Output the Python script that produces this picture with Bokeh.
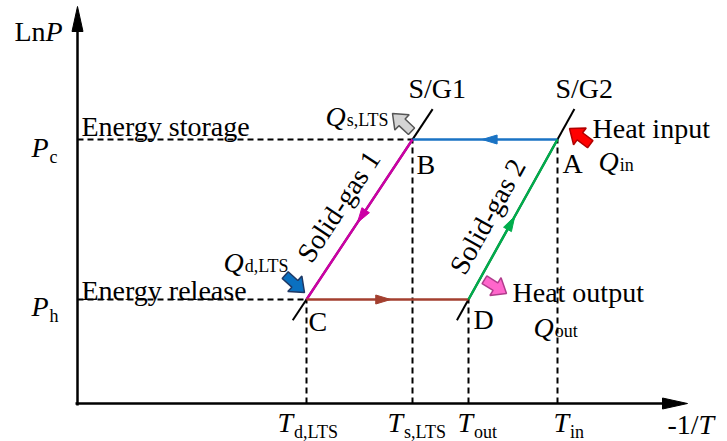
import numpy as np
from bokeh.plotting import figure
from bokeh.models import Range1d
from bokeh.core.properties import value
from bokeh.embed import file_html
from bokeh.resources import INLINE

# Cycle states on the ln P  vs  -1/T plane (diagram units, 1 unit = 100 px)
state_names = ["A", "B", "C", "D"]
state_x = [4.80, 3.35, 2.29, 3.91]   # -1/T
state_y = [2.64, 2.64, 1.04, 1.04]   # ln P

# Axis tick labels: (symbol, subscript)
pressure_ticks = [("P", "c"), ("P", "h")]
temp_ticks = [("T", "d,LTS"), ("T", "s,LTS"), ("T", "out"), ("T", "in")]

# Equilibrium lines (S/G1 through C-B, S/G2 through D-A)
sg_names = ["S/G1", "S/G2"]

# Process legs: start state, end state, colour
legs = [("A", "B", "#1a73c4"), ("B", "C", "#cc00a5"), ("C", "D", "#a33f2f"), ("D", "A", "#00ad4c")]

FONT = value("Liberation Serif")
W_REG = {"d": 500, ",": 250, "L": 611, "T": 611, "S": 556, "s": 389, "o": 500, "u": 500,
         "t": 278, "i": 278, "n": 500, "c": 444, "h": 500, "-": 333, "1": 500, "/": 278}
W_ITA = {"P": 611, "Q": 722, "T": 556}

p = figure(width=727, height=441, output_backend="svg", toolbar_location=None,
           x_range=Range1d(-0.77, 6.50), y_range=Range1d(-0.38, 4.03),
           x_axis_location=None, y_axis_location=None, min_border=0)
p.grid.visible = False
p.outline_line_color = None
p.background_fill_color = "white"
p.border_fill_color = "white"

pos = {n: (x, y) for n, x, y in zip(state_names, state_x, state_y)}


def X(px):
    return (px - 77) / 100.0


def Y(py):
    return (403 - py) / 100.0


def head(tx, ty, ux, uy, L, W, color):
    n = np.hypot(ux, uy)
    ux, uy = ux / n, uy / n
    bx, by = tx - L * ux, ty - L * uy
    px_, py_ = -uy, ux
    xs = [tx, bx + W / 2 * px_, bx - W / 2 * px_]
    ys = [ty, by + W / 2 * py_, by - W / 2 * py_]
    p.patch(xs, ys, fill_color=color, line_color=color, line_width=1)


def block_arrow(tx, ty, ang_deg, fill, edge, L=0.26, HL=0.13, HW=0.21, SW=0.09):
    a = np.radians(ang_deg)
    ux, uy = np.cos(a), np.sin(a)
    vx, vy = -uy, ux
    hb = (tx - HL * ux, ty - HL * uy)
    tb = (tx - L * ux, ty - L * uy)
    pts = [(tx, ty),
           (hb[0] + HW / 2 * vx, hb[1] + HW / 2 * vy),
           (hb[0] + SW / 2 * vx, hb[1] + SW / 2 * vy),
           (tb[0] + SW / 2 * vx, tb[1] + SW / 2 * vy),
           (tb[0] - SW / 2 * vx, tb[1] - SW / 2 * vy),
           (hb[0] - SW / 2 * vx, hb[1] - SW / 2 * vy),
           (hb[0] - HW / 2 * vx, hb[1] - HW / 2 * vy)]
    p.patch([q[0] for q in pts], [q[1] for q in pts], fill_color=fill,
            line_color=edge, line_width=1.5)


def txt(x, y, s, size=28, italic=False, align="left", baseline="alphabetic", angle=0.0):
    p.text(x=[x], y=[y], text=[s], text_font=FONT, text_font_size=f"{size}px",
           text_font_style="italic" if italic else "normal", text_align=align,
           text_baseline=baseline, angle=angle, text_color="black")


def width(s, size, italic=False):
    tbl = W_ITA if italic else W_REG
    return sum(tbl.get(ch, 500) for ch in s) * size / 1000.0


def sub_label(xl, yb, main, sub, drop=8):
    txt(xl, yb, main, italic=True)
    txt(xl + width(main, 28, True) / 100.0 + 0.01, yb - drop / 100.0, sub, size=18)


# --- axes with arrow heads ---
p.line([0, 0], [-0.02, 3.75], line_color="black", line_width=2.5)
head(0, 3.97, 0, 1, 0.25, 0.11, "black")
p.line([-0.02, 5.88], [0, 0], line_color="black", line_width=2.5)
head(6.10, 0, 1, 0, 0.25, 0.11, "black")

# --- dashed guide lines ---
dash = dict(line_color="black", line_width=2, line_dash="6 4")
p.line([0, pos["B"][0]], [pos["B"][1]] * 2, **dash)
p.line([0, pos["C"][0]], [pos["C"][1]] * 2, **dash)
for n in ["A", "B", "C", "D"]:
    p.line([pos[n][0]] * 2, [0, pos[n][1]], **dash)

# --- S/G equilibrium lines, extended beyond the states ---
for lo, hi in [("C", "B"), ("D", "A")]:
    (x0, y0), (x1, y1) = pos[lo], pos[hi]
    dx, dy = x1 - x0, y1 - y0
    p.line([x0 - 0.13 * dx, x1 + 0.19 * dx], [y0 - 0.13 * dy, y1 + 0.19 * dy],
           line_color="black", line_width=2)

# --- process legs with mid arrows ---
for s, e, c in legs:
    (x0, y0), (x1, y1) = pos[s], pos[e]
    p.line([x0, x1], [y0, y1], line_color=c, line_width=2.5)
    tx, ty = x0 + 0.52 * (x1 - x0), y0 + 0.52 * (y1 - y0)
    head(tx, ty, x1 - x0, y1 - y0, 0.15, 0.09, c)

# --- heat-flow block arrows ---
bx, by = pos["B"]
block_arrow(bx - 0.20, by + 0.26, 137, "#d4d4d4", "#555555")
ax_, ay_ = pos["A"]
block_arrow(ax_ + 0.12, ay_ + 0.11, 143, "#ff0000", "#b00000")
cx, cy = pos["C"]
block_arrow(cx - 0.02, cy + 0.07, -42, "#0a70c0", "#1f3864")
dx_, dy_ = pos["D"]
block_arrow(dx_ + 0.38, dy_ + 0.06, -32, "#ff66cc", "#b03c8c")

# --- axis titles ---
txt(X(14), Y(31), "Ln")
txt(X(14) + width("Ln", 28) / 100.0, Y(31), "P", italic=True)
txt(X(667), Y(424), "-1/")
txt(X(667) + width("-1/", 28) / 100.0, Y(424), "T", italic=True)

# --- pressure tick labels ---
for (m, s), lvl, yb in zip(pressure_ticks, [pos["A"][1], pos["C"][1]], [8, 7]):
    sub_label(X(31), lvl - yb / 100.0, m, s, drop=9)

# --- temperature tick labels ---
t_left = [277, 387, 457, 553]
for (m, s), xl in zip(temp_ticks, t_left):
    sub_label(X(xl), Y(422), m, s, drop=9)

# --- state letters ---
state_lbl = {"A": (562, 163), "B": (416, 164), "C": (308, 321), "D": (473, 319)}
for n in state_names:
    lx, ly = state_lbl[n]
    txt(X(lx), Y(ly), n)

# --- annotations ---
txt(X(408), Y(88), sg_names[0])
txt(X(555), Y(88), sg_names[1])
txt(X(81), Y(126), "Energy storage")
txt(X(81), Y(290), "Energy release")
txt(X(592), Y(128), "Heat input")
txt(X(512), Y(292), "Heat output")
sub_label(X(325), Y(116), "Q", "s,LTS", drop=3)
sub_label(X(598), Y(161), "Q", "in", drop=3)
sub_label(X(533), Y(327), "Q", "out", drop=3)
sub_label(X(223), Y(262), "Q", "d,LTS", drop=3)

# rotated curve names along the S/G lines
a1 = np.arctan2(pos["B"][1] - pos["C"][1], pos["B"][0] - pos["C"][0])
a2 = np.arctan2(pos["A"][1] - pos["D"][1], pos["A"][0] - pos["D"][0])
txt(X(338), Y(206), "Solid-gas 1", align="center", baseline="middle", angle=a1)
txt(X(487), Y(216), "Solid-gas 2", align="center", baseline="middle", angle=a2)

open("out.html", "w").write(file_html(p, INLINE))
